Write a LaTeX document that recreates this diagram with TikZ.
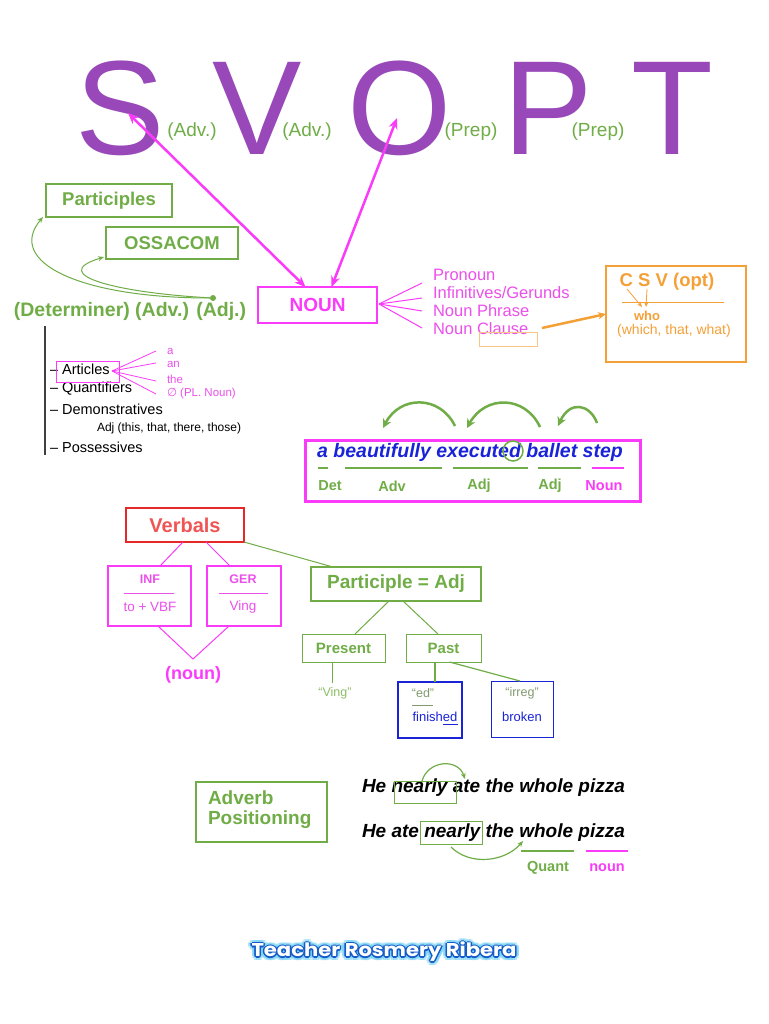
\documentclass[tikz,border=0pt]{standalone}
\usepackage{fontspec}
\setmainfont{Liberation Sans}
\newfontfamily\dejavu{DejaVu Sans}
\newfontfamily\popp{Poppins}
\usetikzlibrary{arrows.meta}
\definecolor{svp}{RGB}{152,72,184}
\definecolor{gr}{RGB}{112,173,71}
\definecolor{grl}{RGB}{140,190,100}
\definecolor{grg}{RGB}{130,155,110}
\definecolor{mg}{RGB}{250,60,250}
\definecolor{mgt}{RGB}{235,80,235}
\definecolor{org}{RGB}{245,160,55}
\definecolor{rd}{RGB}{230,40,40}
\definecolor{rdt}{RGB}{240,85,85}
\definecolor{bl}{RGB}{25,35,215}
\definecolor{glowc}{RGB}{120,210,245}
\definecolor{glowb}{RGB}{20,90,200}
\newcommand{\myfs}[1]{\fontsize{#1}{#1}\selectfont}
\begin{document}
\begin{tikzpicture}[x=1pt,y=-1pt,
  txt/.style={inner sep=0pt, outer sep=0pt},
  bx/.style={inner sep=0pt, outer sep=0pt, rectangle},
  mgarrow/.style={mg, line width=2.5pt, {Stealth[length=11pt,width=9pt]}-{Stealth[length=11pt,width=9pt]}},
  garc/.style={gr, line width=2.5pt, -{Stealth[length=9pt,width=9pt]}},
  gthin/.style={gr, line width=1pt, -{Stealth[length=6pt,width=5pt]}},
  fan/.style={line width=1pt},
  sig/.style={txt, font=\popp\bfseries\myfs{18.5}, xscale=1.14, transform shape},
]
\useasboundingbox[fill=white] (0,0) rectangle (768,1024);

% ---- S V O P T
\node[txt, anchor=base, text=svp, font=\myfs{134}] (S) at (120,155) {S};
\node[txt, anchor=base, text=svp, font=\myfs{134}] (V) at (257,155) {V};
\node[txt, anchor=base, text=svp, font=\myfs{134}] (O) at (400,155) {O};
\node[txt, anchor=base, text=svp, font=\myfs{134}] (P) at (548,155) {P};
\node[txt, anchor=base, text=svp, font=\myfs{134}] (T) at (672,155) {T};
\node[txt, text=gr, font=\myfs{19}] (adv1) at (192,132) {(Adv.)};
\node[txt, text=gr, font=\myfs{19}] (adv2) at (307,132) {(Adv.)};
\node[txt, text=gr, font=\myfs{19}] (prep1) at (471,132) {(Prep)};
\node[txt, text=gr, font=\myfs{19}] (prep2) at (598,132) {(Prep)};

% ---- NOUN
\node[bx, draw=mg, line width=2.5pt, minimum width=119, minimum height=36, text=mg, font=\bfseries\myfs{19}] (noun) at (317.5,305) {NOUN};
\coordinate (sTip) at (128,113);
\coordinate (oTip) at (397,118);
\draw[mgarrow] ([xshift=-12pt]noun.north) -- (sTip);
\draw[mgarrow] ([xshift=14pt]noun.north) -- (oTip);

\node[txt, anchor=west, text=mgt, font=\myfs{16.5}] (pron) at (433,275) {Pronoun};
\node[txt, anchor=west, text=mgt, font=\myfs{16.5}] (infg) at (433,293) {Infinitives/Gerunds};
\node[txt, anchor=west, text=mgt, font=\myfs{16.5}] (nphr) at (433,311) {Noun Phrase};
\node[txt, anchor=west, text=mgt, font=\myfs{16.5}] (ncl) at (433,329) {Noun Clause};
\coordinate (nf) at (379,304);
\coordinate (f1) at (422,283);
\coordinate (f2) at (422,298);
\coordinate (f3) at (422,311);
\coordinate (f4) at (422,328);
\foreach \f in {f1,f2,f3,f4} \draw[mg, fan] (nf) -- (\f);
\node[bx, draw=org!60, line width=0.6pt, minimum width=58, minimum height=14] (clbox) at (508,339) {};
\coordinate (oa) at (542,328);

% ---- CSV
\node[bx, draw=org, line width=2pt, minimum width=140, minimum height=96] (csv) at (676,314) {};
\draw[org, line width=2.5pt, -{Stealth[length=8pt,width=7pt]}] (oa) -- (csv.west);
\node[txt, text=org, font=\bfseries\myfs{18.5}] (csvt) at (667,282) {C S V (opt)};
\draw[org, line width=1pt] (622,302) -- (724,302);
\coordinate (cC) at (627,289);
\coordinate (cS) at (647,289);
\coordinate (cw1) at (642,307);
\coordinate (cw2) at (646,307);
\draw[org, line width=0.8pt, -{Stealth[length=5pt,width=4pt]}] (cC) -- (cw1);
\draw[org, line width=0.8pt, -{Stealth[length=5pt,width=4pt]}] (cS) -- (cw2);
\node[txt, text=org, font=\bfseries\myfs{13}] (who) at (647,316) {who};
\node[txt, text=org, font=\myfs{14}] (wtw) at (674,331) {(which, that, what)};

% ---- Participles / OSSACOM / Determiner
\node[bx, draw=gr, line width=2pt, minimum width=126, minimum height=33, text=gr, font=\bfseries\myfs{18.5}] (part) at (109,200.5) {Participles};
\node[bx, draw=gr, line width=2pt, minimum width=132, minimum height=32, text=gr, font=\bfseries\myfs{18.5}] (ossa) at (172,243) {OSSACOM};
\node[txt, text=gr, font=\bfseries\myfs{19.5}] (det) at (130,311) {(Determiner) (Adv.) (Adj.)};
\node[circle, fill=gr, inner sep=0pt, minimum size=6] (dot) at (213,298) {};
\draw[gthin] (dot) .. controls (80,298) and (5,262) .. ([xshift=-3pt]part.south west);
\draw[gthin] (dot) .. controls (120,293) and (45,275) .. ([xshift=-2pt,yshift=2pt]ossa.south west);

% ---- Articles list
\coordinate (vl1) at (45,326);
\coordinate (vl2) at (45,455);
\draw[black!75, line width=1.2pt] (vl1) -- (vl2);
\node[txt, anchor=west, font=\myfs{14.5}] (art) at (50,369) {– Articles};
\node[txt, anchor=west, font=\myfs{14.5}] (quant) at (50,389) {– Quantifiers};
\node[txt, anchor=west, font=\myfs{14.5}] (dem) at (50,409) {– Demonstratives};
\node[txt, anchor=west, font=\myfs{12}] (adjl) at (97,428) {Adj (this, that, there, those)};
\node[txt, anchor=west, font=\myfs{14.5}] (poss) at (50,447) {– Possessives};
\node[bx, draw=mg, line width=1pt, minimum width=63, minimum height=21] (artbox) at (87.5,371.5) {};
\coordinate (af) at (112,371);
\coordinate (a1) at (156,351);
\coordinate (a2) at (156,363);
\coordinate (a3) at (156,381);
\coordinate (a4) at (156,394);
\foreach \f in {a1,a2,a3,a4} \draw[mg, line width=0.8pt] (af) -- (\f);
\node[txt, anchor=west, text=mgt, font=\myfs{11.5}] (la) at (167,351) {a};
\node[txt, anchor=west, text=mgt, font=\myfs{11.5}] (lan) at (167,364) {an};
\node[txt, anchor=west, text=mgt, font=\myfs{11.5}] (lthe) at (167,379) {the};
\node[txt, anchor=west, text=mgt, font=\myfs{11.5}] (lzero) at (167,394) {{\dejavu ∅} (PL. Noun)};

% ---- ballet step
\node[bx, draw=mg, line width=3pt, minimum width=335, minimum height=61] (ballet) at (472.5,470.5) {};
\node[txt, text=bl, font=\bfseries\itshape\myfs{19.5}] (bs) at (470,452) {a beautifully executed ballet step};
\node[circle, draw=gr, line width=1.5pt, minimum size=20, inner sep=0pt] (circ) at (513,451) {};
\draw[gr, line width=1.5pt] (318,468) -- (328,468);
\draw[gr, line width=1.5pt] (345,468) -- (442,468);
\draw[gr, line width=1.5pt] (453,468) -- (528,468);
\draw[gr, line width=1.5pt] (538,468) -- (581,468);
\draw[mg, line width=1.5pt] (592,468) -- (624,468);
\node[txt, text=gr, font=\bfseries\myfs{14.5}] (ldet) at (330,486) {Det};
\node[txt, text=gr, font=\bfseries\myfs{14.5}] (ladv) at (392,486) {Adv};
\node[txt, text=gr, font=\bfseries\myfs{14.5}] (ladj1) at (479,486) {Adj};
\node[txt, text=gr, font=\bfseries\myfs{14.5}] (ladj2) at (550,486) {Adj};
\node[txt, text=mg, font=\bfseries\myfs{14.5}] (lnoun) at (604,486) {Noun};
\coordinate (r1s) at (455,426); \coordinate (r1e) at (383,428);
\coordinate (r2s) at (540,427); \coordinate (r2e) at (467,428);
\coordinate (r3s) at (597,423); \coordinate (r3e) at (558,426);
\draw[garc] (r1s) .. controls (440,395) and (400,395) .. (r1e);
\draw[garc] (r2s) .. controls (525,395) and (485,395) .. (r2e);
\draw[garc] (r3s) .. controls (590,404) and (570,400) .. (r3e);

% ---- Verbals
\node[bx, draw=rd, line width=2pt, minimum width=118, minimum height=34, text=rdt, font=\bfseries\myfs{20}] (verb) at (185,525) {Verbals};
\node[bx, draw=mg, line width=2pt, minimum width=83, minimum height=60] (inf) at (149.5,596) {};
\node[bx, draw=mg, line width=2pt, minimum width=74, minimum height=60] (ger) at (244,596) {};
\node[txt, text=mgt, font=\bfseries\myfs{12.5}] (inft) at (150,579) {INF};
\node[txt, text=mgt, font=\myfs{13.5}] (tovbf) at (150,607) {to + VBF};
\node[txt, text=mgt, font=\bfseries\myfs{12.5}] (gert) at (243,579) {GER};
\node[txt, text=mgt, font=\myfs{13.5}] (ving) at (243,607) {Ving};
\draw[mgt, line width=0.7pt] (124,593) -- (174,593);
\draw[mgt, line width=0.7pt] (219,593) -- (268,593);
\draw[mg, line width=1pt] ([xshift=-2pt]verb.south) -- ([xshift=10.5pt]inf.north);
\draw[mg, line width=1pt] ([xshift=21pt]verb.south) -- ([xshift=-14pt]ger.north);
\coordinate (vtip) at (193,659);
\draw[mg, line width=1pt] ([xshift=8.5pt]inf.south) -- (vtip) -- ([xshift=-15pt]ger.south);
\node[txt, text=mg, font=\bfseries\myfs{18}] (nountxt) at (193,675) {(noun)};

% ---- Participle tree
\node[bx, draw=gr, line width=1.5pt, minimum width=170, minimum height=34, text=gr, font=\bfseries\myfs{19}] (pa) at (396,584) {Participle = Adj};
\draw[gr, line width=1pt] (verb.south east) -- ([xshift=22pt]pa.north west);
\node[bx, draw=gr, line width=1pt, minimum width=83, minimum height=28, text=gr, font=\bfseries\myfs{15}] (pres) at (343.5,648) {Present};
\node[bx, draw=gr, line width=1pt, minimum width=75, minimum height=28, text=gr, font=\bfseries\myfs{15}] (past) at (443.5,648) {Past};
\draw[gr, line width=1pt] ([xshift=-7pt]pa.south) -- ([xshift=11.5pt]pres.north);
\draw[gr, line width=1pt] ([xshift=7pt]pa.south) -- ([xshift=-5.5pt]past.north);
\node[txt, text=grl, font=\myfs{12.5}] (vingq) at (335,693) {“Ving”};
\coordinate (pstem) at (332,683);
\draw[gr, line width=1pt] ([xshift=-11.5pt]pres.south) -- (pstem);
\node[bx, draw=bl, line width=1.5pt, minimum width=64, minimum height=56] (ed) at (430,710) {};
\node[bx, draw=bl, line width=1pt, minimum width=62, minimum height=56] (irr) at (522,709) {};
\draw[gr, line width=2pt] ([xshift=-8.5pt]past.south) -- ([xshift=5pt]ed.north);
\draw[gr, line width=1.2pt] ([xshift=6pt]past.south) -- ([xshift=-2pt]irr.north);
\node[txt, text=grg, font=\myfs{12.5}] (edq) at (423,693) {“ed”};
\draw[grg, line width=1pt] (412,705) -- (433,705);
\node[txt, text=bl, font=\myfs{13}] (fin) at (435,717) {finished};
\draw[bl, line width=1pt] (443,724) -- (458,724);
\node[txt, text=grg, font=\myfs{12.5}] (irq) at (522,693) {“irreg”};
\node[txt, text=bl, font=\myfs{13}] (brk) at (522,717) {broken};

% ---- Adverb positioning
\node[bx, draw=gr, line width=2pt, minimum width=131, minimum height=60] (advb) at (261.5,812) {};
\node[txt, anchor=west, text=gr, font=\bfseries\myfs{19}] (advt1) at (208,798) {Adverb};
\node[txt, anchor=west, text=gr, font=\bfseries\myfs{19}] (advt2) at (208,820) {Positioning};
\node[txt, anchor=west, font=\bfseries\itshape\myfs{19}] (s1) at (362,788) {He nearly ate the whole pizza};
\node[txt, anchor=west, font=\bfseries\itshape\myfs{19}] (s2) at (362,833) {He ate nearly the whole pizza};
\node[bx, draw=gr, line width=1pt, minimum width=62, minimum height=22] (n1) at (425,792) {};
\node[bx, draw=gr, line width=1pt, minimum width=62, minimum height=23] (n2) at (451,832.5) {};
\coordinate (n1e) at (465,779);
\draw[gthin, line width=1.2pt] ([xshift=-3pt]n1.north) .. controls (428,760) and (458,758) .. (n1e);
\coordinate (n2e) at (523,841);
\draw[gthin, line width=1.2pt] ([yshift=-3pt]n2.south) .. controls (470,866) and (505,862) .. (n2e);
\draw[gr, line width=1.5pt] (521,851) -- (574,851);
\draw[mg, line width=1.5pt] (586,851) -- (628,851);
\node[txt, text=gr, font=\bfseries\myfs{14.5}] (quanttxt) at (548,868) {Quant};
\node[txt, text=mg, font=\bfseries\myfs{14.5}] (nountxt2) at (607,868) {noun};

% ---- signature
\foreach \a in {0,30,...,330}
  \node[sig, text=glowc, opacity=0.5, shift={(\a:3.5)}] (gc\a) at (384,952) {Teacher Rosmery Ribera};
\foreach \a in {0,45,...,315}
  \node[sig, text=glowb, shift={(\a:1.3)}] (gb\a) at (384,952) {Teacher Rosmery Ribera};
\node[sig, text=white] (sigw) at (384,952) {Teacher Rosmery Ribera};
\end{tikzpicture}
\end{document}
